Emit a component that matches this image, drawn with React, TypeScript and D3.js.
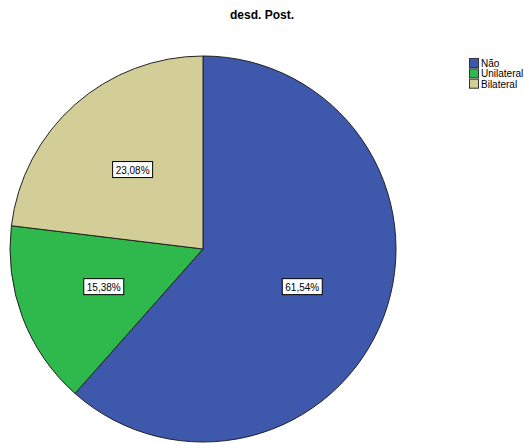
import React from "react";
import * as d3 from "d3";

// Category counts and colours for the pie
const categories = ["Não", "Unilateral", "Bilateral"];
const values = [8, 2, 3];
const colors = ["#3e58ab", "#2fb84b", "#d3ce98"];
const title = "desd. Post.";

const W = 524;
const H = 444;
const cx = 203;
const cy = 249;
const R = 193;

const fmt = (v: number) => (v * 100).toFixed(2).replace(".", ",") + "%";

export default function App() {
  const total = d3.sum(values);
  const pie = d3
    .pie<number>()
    .sort(null)
    .value((d) => d);
  const arcs = pie(values);
  const arc = d3.arc<d3.PieArcDatum<number>>().innerRadius(0).outerRadius(R);
  const labelArc = d3
    .arc<d3.PieArcDatum<number>>()
    .innerRadius(R * 0.55)
    .outerRadius(R * 0.55);

  const legendY = d3
    .scaleBand<string>()
    .domain(categories)
    .range([58, 88])
    .paddingInner(0.1);

  return (
    <svg
      width={W}
      height={H}
      style={{ position: "absolute", left: 0, top: 0, background: "#fff" }}
      fontFamily="Arial, 'Liberation Sans', sans-serif"
    >
      <text x={W / 2} y={19} textAnchor="middle" fontSize={12} fontWeight="bold" fill="#000">
        {title}
      </text>
      <g transform={`translate(${cx},${cy})`}>
        {arcs.map((a, i) => (
          <path key={i} d={arc(a) || ""} fill={colors[i]} stroke="#222" strokeWidth={1} />
        ))}
        {arcs.map((a, i) => {
          const [x, y] = labelArc.centroid(a);
          const t = fmt(values[i] / total);
          return (
            <g key={"l" + i} transform={`translate(${x},${y})`}>
              <rect x={-20} y={-8} width={40} height={16} fill="#fff" stroke="#000" strokeWidth={1} />
              <text x={0} y={4} textAnchor="middle" fontSize={10} fill="#000">
                {t}
              </text>
            </g>
          );
        })}
      </g>
      <g>
        {categories.map((c, i) => {
          const y = legendY(c)!;
          return (
            <g key={c}>
              <rect x={469.5} y={y + 0.5} width={9} height={9} fill={colors[i]} stroke="#333" strokeWidth={1} />
              <text x={481} y={y + 9} fontSize={10} fill="#000">
                {c}
              </text>
            </g>
          );
        })}
      </g>
    </svg>
  );
}
